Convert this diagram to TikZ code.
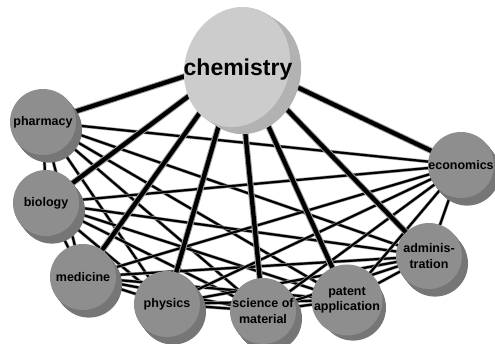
\documentclass[tikz,border=0pt]{standalone}
\usepackage{fontspec}
\setmainfont{Liberation Sans}
\usetikzlibrary{backgrounds}
\definecolor{faceg}{HTML}{8E8E8E}
\definecolor{sideg}{HTML}{767676}
\definecolor{chemface}{HTML}{CCCCCC}
\definecolor{chemside}{HTML}{B2B2B2}
\definecolor{halo}{HTML}{A0A0A0}
\tikzset{
  disk/.style={circle, fill=faceg, minimum size=66pt, inner sep=0pt, align=center,
    font=\bfseries\fontsize{12.5}{15.5}\selectfont},
  chemlbl/.style={inner sep=0pt, font=\bfseries\fontsize{23}{26}\selectfont},
  mainlink/.style={line width=4.3pt, draw=black, preaction={draw=halo, line width=6.3pt}},
  sublink/.style={line width=2.2pt, draw=black, preaction={draw=halo, line width=3.4pt}},
}
\newcommand\mydisk[4]{%
  \foreach \i in {1,...,8} {\fill[sideg] (#2+\i*0.75, #3-\i*0.95) circle (33pt);}
  \node[disk] (#1) at (#2,#3) {#4};
}
\begin{document}
\begin{tikzpicture}[x=1pt,y=1pt]
\useasboundingbox (0,0) rectangle (495,-343);
% chemistry
\foreach \i in {1,...,11} {\fill[chemside, rotate around={-20:(237+\i*1.0,-67-\i*0.65)}] (237+\i*1.0,-67-\i*0.65) ellipse (52 and 61);}
\fill[chemface, rotate around={-20:(237,-67)}] (237,-67) ellipse (52 and 61);
\node[chemlbl] (ch) at (238,-70) {chemistry};
% other disks
\mydisk{ph}{43}{-122}{pharmacy}
\mydisk{bi}{46}{-203}{biology}
\mydisk{me}{83}{-277}{medicine}
\mydisk{py}{167}{-304}{physics}
\mydisk{sm}{263}{-311}{science of\\material}
\mydisk{pa}{347}{-300}{patent\\application}
\mydisk{ad}{429}{-256}{adminis-\\tration}
\mydisk{ec}{461}{-165}{economics}
\begin{scope}[on background layer]
  \foreach \a/\b in {ph/bi,ph/me,ph/py,ph/sm,ph/pa,ph/ad,ph/ec,
                     bi/me,bi/py,bi/sm,bi/pa,bi/ad,bi/ec,
                     me/py,me/sm,me/pa,me/ad,me/ec,
                     py/sm,py/pa,py/ad,py/ec,
                     sm/pa,sm/ad,sm/ec,
                     pa/ad,pa/ec,
                     ad/ec}
    {\draw[sublink] (\a.center) -- (\b.center);}
  \foreach \b in {ph,bi,me,py,sm,pa,ad,ec}
    {\draw[mainlink] (ch.north) -- (\b.center);}
\end{scope}
\end{tikzpicture}
\end{document}
